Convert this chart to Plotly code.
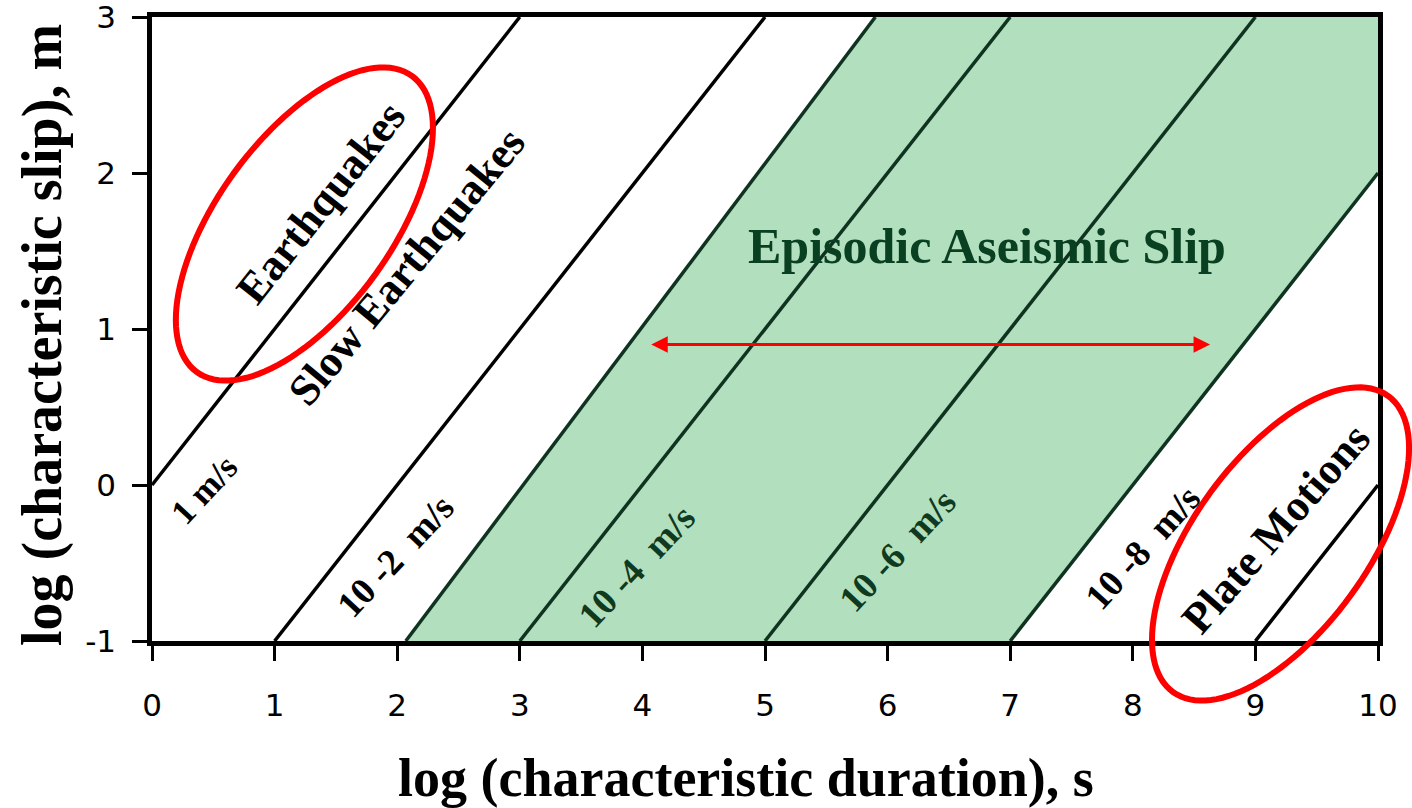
import numpy as np
import plotly.graph_objects as go

# ---------------- data ----------------
x_range = [0, 10]
y_range = [-1, 3]
x_tick_vals = [0, 1, 2, 3, 4, 5, 6, 7, 8, 9, 10]
y_tick_vals = [-1, 0, 1, 2, 3]
y_tick_text = ["-1", "0", "1", "2", "3"]

# constant-velocity lines: log(slip) = log(duration) + log(velocity)
velocity_log = [0, -2, -4, -6, -8, -10]
velocity_line_color = ["#000000", "#000000", "#0f3320", "#0f3320", "#0f3320", "#000000"]

# left edge of the green "Episodic Aseismic Slip" band
green_edge_x = [2.07, 5.9]
green_edge_y = [-1, 3]
green_right_velocity_log = -8

# text labels
label_text = ["Earthquakes", "Slow Earthquakes", "1 m/s", "10 -2  m/s", "10 -4  m/s",
              "10 -6  m/s", "10 -8  m/s", "Plate Motions"]
label_x = [1.38, 2.08, 0.43, 1.99, 3.95, 6.08, 8.08, 9.17]
label_y = [1.81, 1.40, -0.03, -0.455, -0.52, -0.42, -0.40, -0.28]
label_angle = [-51.7, -50.5, -47, -47, -47, -47, -48, -49]
label_size = [44, 44, 35, 37, 37, 37, 37, 44]
label_color = ["#000000", "#000000", "#000000", "#000000", "#0f3a20", "#0f3a20", "#000000", "#000000"]

region_text = "Episodic Aseismic Slip"
region_x = 6.81
region_y = 1.53

arrow_x = [4.06, 8.63]
arrow_y = 0.9

# highlight ellipses: centre in data units, semi-axes in pixels, tilt in degrees
ellipse_cx = [1.243, 9.205]
ellipse_cy = [1.673, -0.378]
ellipse_a = [183, 183]
ellipse_b = [87, 87]
ellipse_tilt = [54, 54]

x_title = "log (characteristic duration), s"
y_title = "log (characteristic slip), m"

# ---------------- layout geometry ----------------
W, H = 1412, 808
ML, MR, MT, MB = 152, 34, 17, 167
PW = W - ML - MR
PH = H - MT - MB
px_per_x = PW / (x_range[1] - x_range[0])
px_per_y = PH / (y_range[1] - y_range[0])

GREEN = "rgb(178,223,190)"
SERIF = "Liberation Serif, Times New Roman, serif"

fig = go.Figure()

# green band polygon
gx = [green_edge_x[0], green_edge_x[1], x_range[1], x_range[1], y_range[0] - green_right_velocity_log]
gy = [green_edge_y[0], green_edge_y[1], y_range[1], x_range[1] + green_right_velocity_log, y_range[0]]
fig.add_trace(go.Scatter(x=gx, y=gy, fill="toself", fillcolor=GREEN, mode="lines",
                         line=dict(width=0), hoverinfo="skip", showlegend=False))

# green band edge
fig.add_trace(go.Scatter(x=green_edge_x, y=green_edge_y, mode="lines",
                         line=dict(color="#0f3320", width=3.5), hoverinfo="skip", showlegend=False))

# velocity lines
for v, c in zip(velocity_log, velocity_line_color):
    xs = max(x_range[0], y_range[0] - v)
    xe = min(x_range[1], y_range[1] - v)
    fig.add_trace(go.Scatter(x=[xs, xe], y=[xs + v, xe + v], mode="lines",
                             line=dict(color=c, width=3.5), hoverinfo="skip", showlegend=False))

annotations = []
for t, x, y, a, s, c in zip(label_text, label_x, label_y, label_angle, label_size, label_color):
    annotations.append(dict(x=x, y=y, xref="x", yref="y", text="<b>" + t + "</b>",
                            showarrow=False, textangle=a, xanchor="center", yanchor="middle",
                            font=dict(family=SERIF, size=s, color=c)))

annotations.append(dict(x=region_x, y=region_y, xref="x", yref="y", text="<b>" + region_text + "</b>",
                        showarrow=False, xanchor="center", yanchor="middle",
                        font=dict(family=SERIF, size=50, color="#0a4022")))

# double-headed arrow
annotations.append(dict(x=arrow_x[1], y=arrow_y, ax=arrow_x[0], ay=arrow_y, xref="x", yref="y",
                        axref="x", ayref="y", text="", showarrow=True, arrowhead=2, startarrowhead=2,
                        arrowside="end+start", arrowsize=1.1, startarrowsize=1.1, arrowwidth=3,
                        arrowcolor="#ff0000", standoff=0, startstandoff=0))

# axis titles
annotations.append(dict(x=(746 - ML) / PW, y=(MT + PH - 778) / PH, xref="paper", yref="paper",
                        text="<b>" + x_title + "</b>", showarrow=False, xanchor="center", yanchor="middle",
                        font=dict(family=SERIF, size=54, color="#000000")))
annotations.append(dict(x=(42 - ML) / PW, y=(MT + PH - 335) / PH, xref="paper", yref="paper",
                        text="<b>" + y_title + "</b>", showarrow=False, xanchor="center", yanchor="middle",
                        textangle=-90, font=dict(family=SERIF, size=56, color="#000000")))

# ellipses as paper-referenced paths (not clipped)
shapes = []
t = np.linspace(0, 2 * np.pi, 121)
for cx, cy, a, b, tilt in zip(ellipse_cx, ellipse_cy, ellipse_a, ellipse_b, ellipse_tilt):
    th = np.deg2rad(tilt)
    cpx = ML + (cx - x_range[0]) * px_per_x
    cpy = MT + (y_range[1] - cy) * px_per_y
    ex = a * np.cos(t) * np.cos(th) - b * np.sin(t) * np.sin(th)
    ey = a * np.cos(t) * np.sin(th) + b * np.sin(t) * np.cos(th)
    X = cpx + ex
    Y = cpy - ey
    pxp = (X - ML) / PW
    pyp = (MT + PH - Y) / PH
    path = "M " + " L ".join(f"{u:.5f},{w:.5f}" for u, w in zip(pxp, pyp)) + " Z"
    shapes.append(dict(type="path", path=path, xref="paper", yref="paper",
                       line=dict(color="#ff0000", width=6), layer="above"))

axis_common = dict(showgrid=False, zeroline=False, showline=True, linecolor="#000000", linewidth=4.5,
                   mirror=True, ticks="outside", ticklen=15, tickwidth=3, tickcolor="#000000",
                   automargin=False, ticklabeloverflow="allow",
                   tickfont=dict(family="DejaVu Sans", size=31, color="#000000"))

fig.update_layout(
    width=W, height=H,
    margin=dict(l=ML, r=MR, t=MT, b=MB, pad=0, autoexpand=False),
    paper_bgcolor="#ffffff", plot_bgcolor="#ffffff",
    xaxis=dict(range=x_range, tickvals=x_tick_vals, ticklabelstandoff=18, **axis_common),
    yaxis=dict(range=y_range, tickvals=y_tick_vals, ticktext=y_tick_text, ticklabelstandoff=10,
               **axis_common),
    annotations=annotations,
    shapes=shapes,
    showlegend=False,
)

fig.write_html("out.html")
